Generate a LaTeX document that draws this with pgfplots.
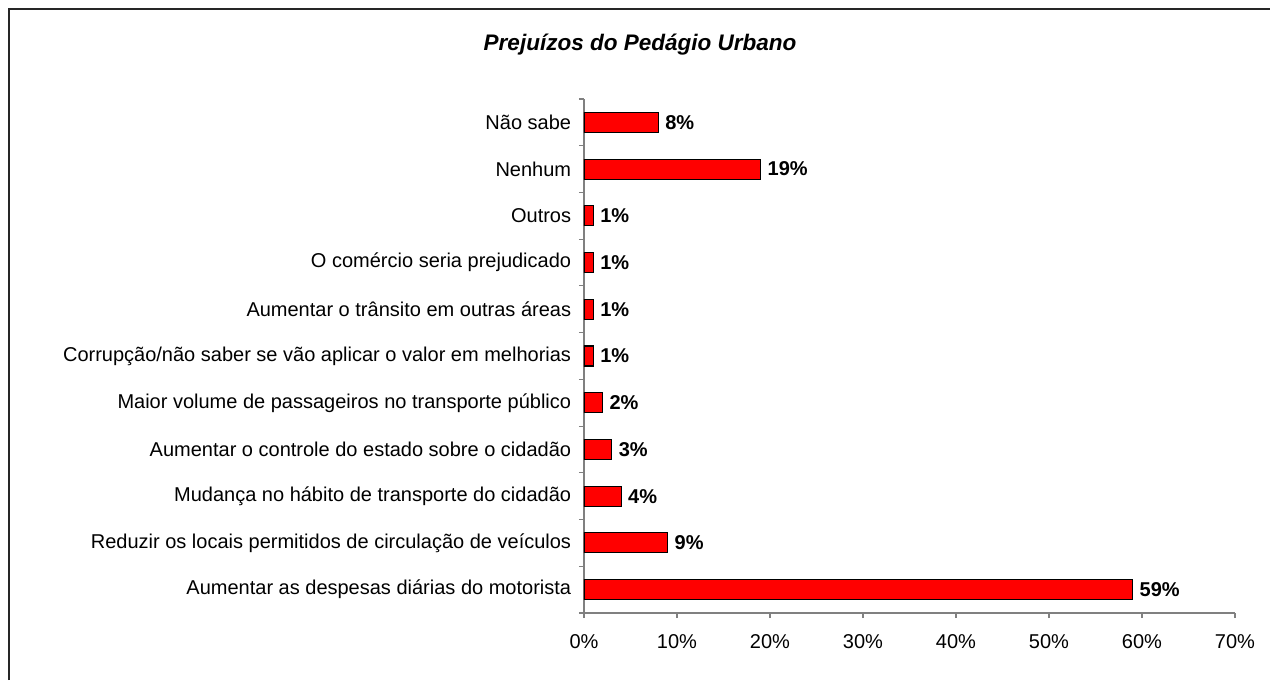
\documentclass[border=0pt]{standalone}
\usepackage{fontspec}
\setmainfont{Liberation Sans}
\usepackage{pgfplots}
\pgfplotsset{compat=1.18}
\definecolor{axgray}{RGB}{128,128,128}
\begin{document}
\begin{tikzpicture}[x=0.6pt,y=0.6pt]
\path[use as bounding box] (0,0) rectangle (1270,680);
\draw[line width=1.2pt, black!85] (8.5,0) -- (8.5,671) -- (1270,671);
\node[font=\fontsize{13.5}{15}\selectfont\bfseries\itshape] at (640,635) {Prejuízos do Pedágio Urbano};
\begin{axis}[
  at={(350.4pt,40.2pt)}, anchor=south west,
  scale only axis, width=390.6pt, height=308.4pt,
  xbar, bar width=12pt,
  xmin=0, xmax=70, ymin=-0.5, ymax=10.5,
  axis x line*=bottom, axis y line*=left,
  axis line style={axgray, line width=0.7pt},
  tick align=outside,
  major tick length=3pt, minor tick length=3pt,
  xtick={0,10,...,70},
  xticklabel={\pgfmathprintnumber{\tick}\%},
  /pgf/number format/assume math mode=true,
  x tick style={axgray, line width=0.7pt},
  ytick={0,...,10},
  yticklabels={Aumentar as despesas diárias do motorista,
    Reduzir os locais permitidos de circulação de veículos,
    Mudança no hábito de transporte do cidadão,
    Aumentar o controle do estado sobre o cidadão,
    Maior volume de passageiros no transporte público,
    Corrupção/não saber se vão aplicar o valor em melhorias,
    Aumentar o trânsito em outras áreas,
    O comércio seria prejudicado,
    Outros, Nenhum, Não sabe},
  major y tick style={draw=none},
  minor ytick={-0.5,0.5,...,10.5},
  minor y tick style={axgray, line width=0.7pt},
  tick label style={font=\fontsize{12}{14}\selectfont},
  yticklabel style={xshift=-1.2pt},
  xticklabel style={yshift=-6.5pt},
  nodes near coords={\pgfmathprintnumber{\pgfplotspointmeta}\%},
  point meta=x,
  nodes near coords style={font=\fontsize{12}{14}\selectfont\bfseries, anchor=west, xshift=0.5pt, /pgf/number format/assume math mode=true},
]
\addplot[fill=red, draw=black, line width=0.7pt] coordinates {
(59,0) (9,1) (4,2) (3,3) (2,4) (1,5) (1,6) (1,7) (1,8) (19,9) (8,10)};
\end{axis}
\end{tikzpicture}
\end{document}
